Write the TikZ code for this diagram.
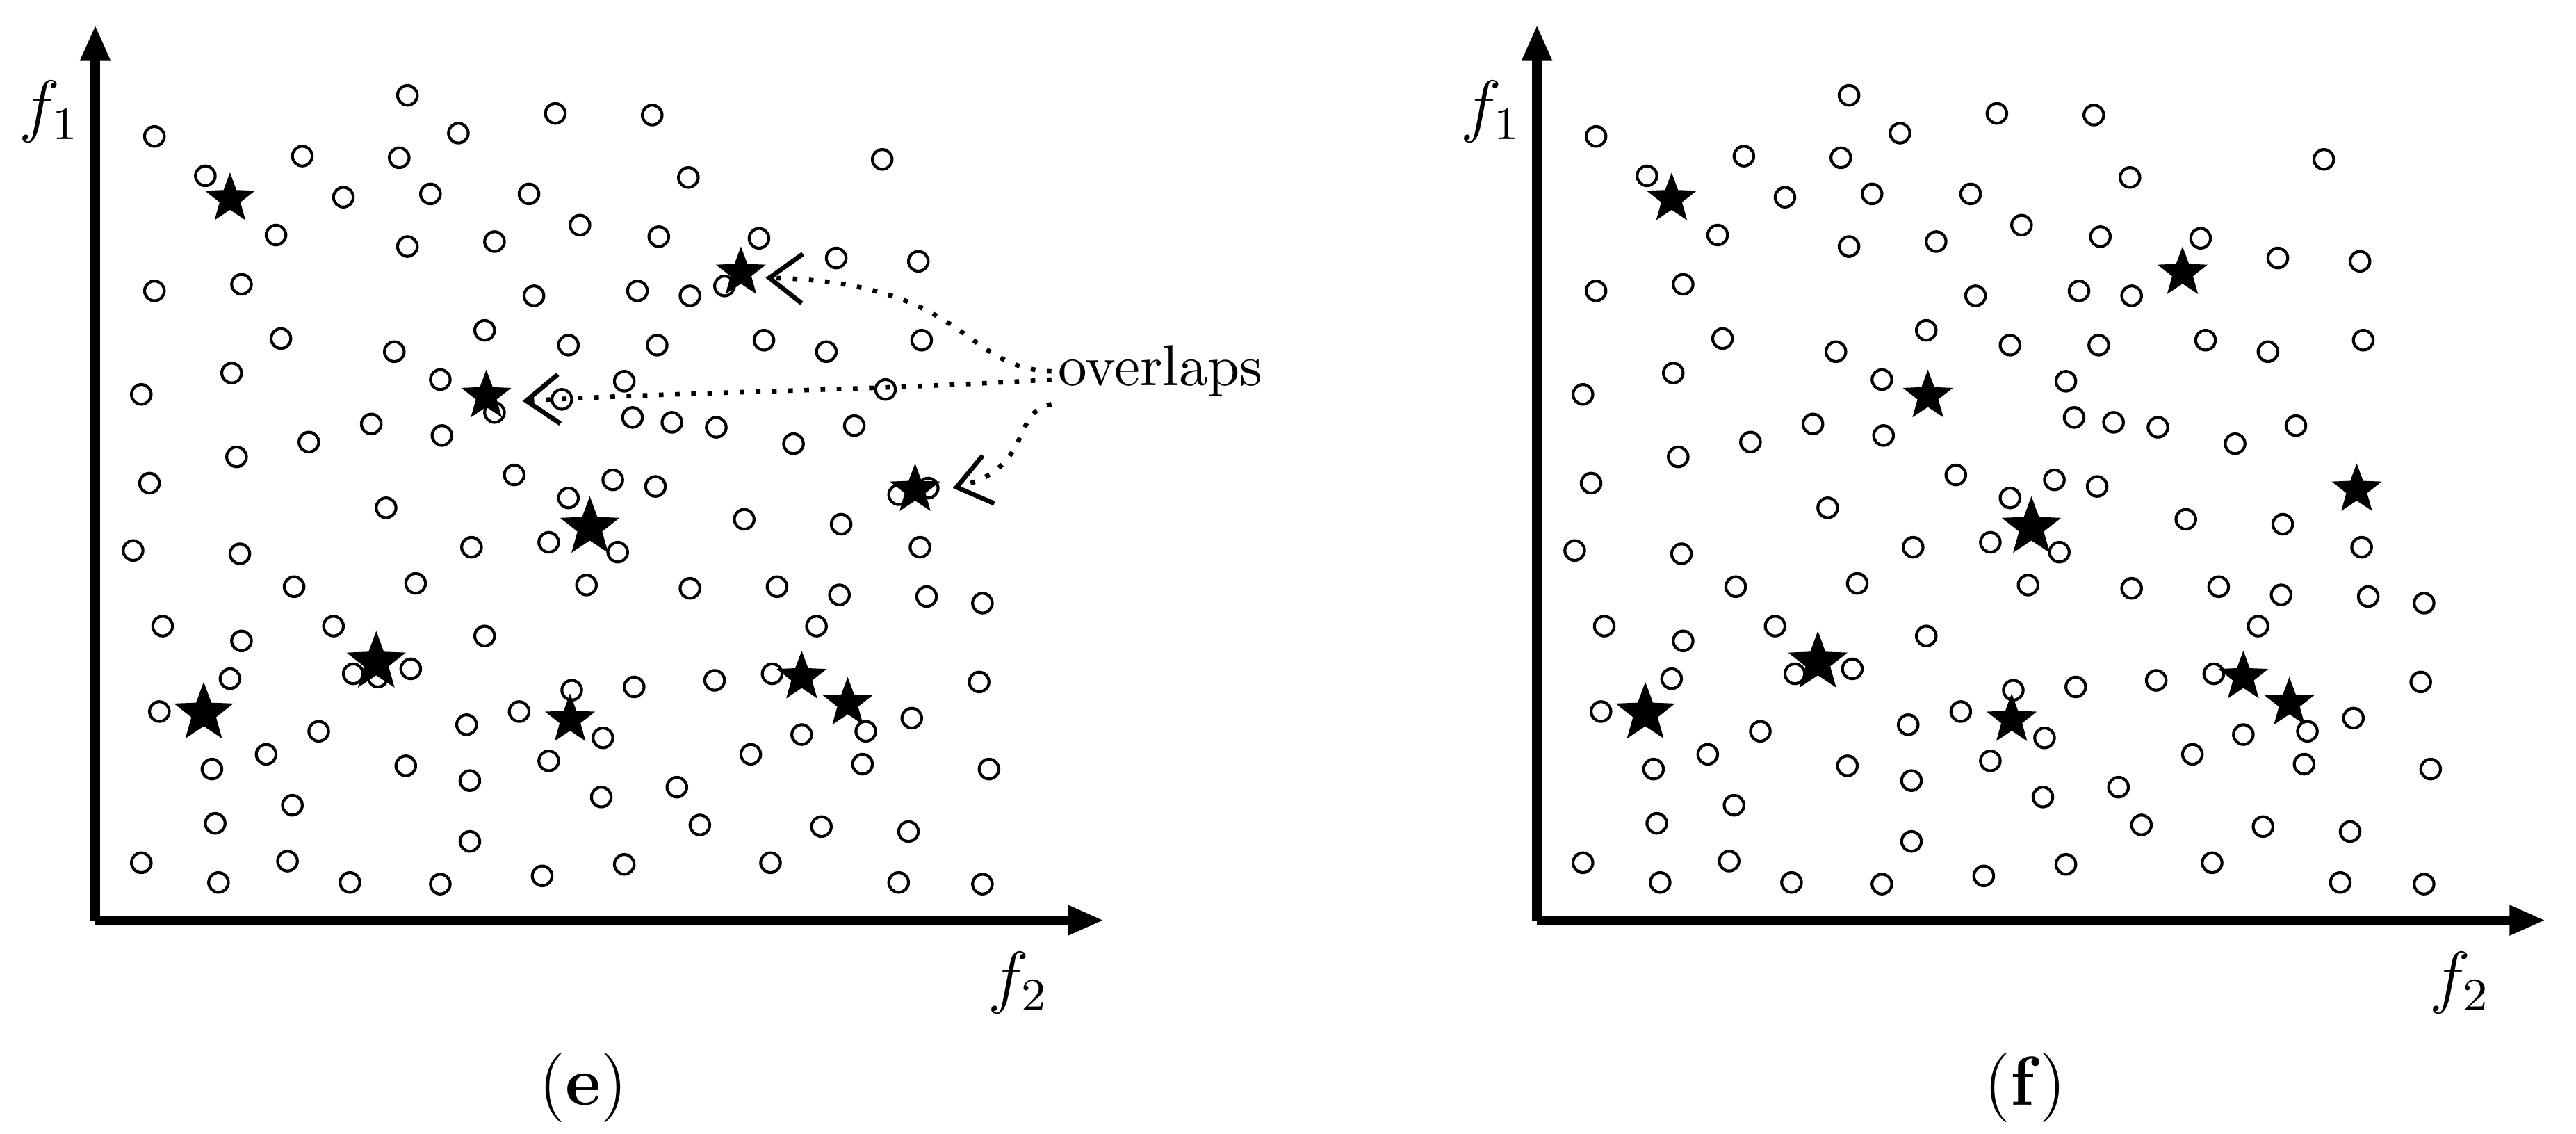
\documentclass[tikz,border=0pt]{standalone}
\usetikzlibrary{shapes.geometric,arrows.meta}
\begin{document}
\begin{tikzpicture}[x=0.01cm,y=-0.01cm,
  pt/.style={circle,draw,line width=0.5pt,minimum size=0.12cm,inner sep=0pt},
  st/.style={star,star points=5,star point ratio=2.4,fill=black,inner sep=0pt,minimum size=0.32cm},
  bst/.style={st,minimum size=0.38cm},
  ax/.style={line width=1.6pt,-{Triangle[length=0.22cm,width=0.17cm]}},
  ov/.style={dotted,line width=0.8pt,-{Straight Barb[length=0.2cm,width=0.3cm]}}]
\useasboundingbox (0,0) rectangle (1568,690);
\newcommand\pts{94/83,125/107,248/58,279/81,338/69,397/70,184/95,243/96,209/120,262/118,322/118,419/108,537/97,168/143,248/150,301/147,353/137,401/144,462/145,509/157,559/159,94/177,147/173,325/180,388/177,420/180,171/206,295/201,240/214,346/210,400/210,465/207,503/214,561/207,86/240,141/227,268/231,380/232,385/254,409/257,269/265,226/258,188/269,144/278,436/260,483/270,520/259,91/294,313/289,346/303,373/292,235/309,399/296,453/316,512/319,81/335,146/337,287/333,334/330,376/336,560/333,179/357,253/355,357/356,420/358,473/357,511/362,564/363,598/367,99/381,147/390,203/381,295/387,497/381,140/413,215/410,250/407,348/420,386/418,435/414,470/410,596/415,97/433,194/445,284/441,316/433,367/449,488/447,527/445,555/437,129/468,162/459,247/466,334/463,457/459,525/465,602/468,178/490,286/475,366/485,412/479,131/501,286/512,426/502,500/503,553/506,86/525,133/537,175/524,213/537,268/538,330/533,380/526,469/525,547/537,598/538}
\newcommand\stars{140/121/st,451/166/st,296/241/st,557/298/st,359/321/bst,229/403/bst,124/434/bst,347/438/st,488/412/st,516/428/st}
% panel e
\foreach \x/\y [count=\i] in \pts {\node[pt] (e\i) at (\x,\y) {};}
\foreach \x/\y [count=\i] in {441/174,342/243,539/237,547/301,565/297,301/251,230/412} {\node[pt] (ex\i) at (\x,\y) {};}
\foreach \x/\y/\s [count=\i] in \stars {\node[\s] (es\i) at (\x,\y) {};}
\coordinate (eo) at (58,560);
\coordinate (ey) at (58,15);
\coordinate (ex) at (672,560);
\draw[ax] (eo) -- (ey);
\draw[ax] (eo) -- (ex);
\node (ef1) at (30,68) {\large$f_{\scriptstyle 1}$};
\node (ef2) at (620,598) {\large$f_{\scriptstyle 2}$};
\node (el) at (355,662) {\large(\textbf{e})};
\node[anchor=west,inner sep=1pt] (ovl) at (640,226) {overlaps};
\draw[ov] (ovl.west) .. controls (585,224) and (590,172) .. (466,169);
\draw[ov] ([yshift=-0.05cm]ovl.west) .. controls (520,238) and (430,238) .. (318,244);
\draw[ov] ([yshift=-0.2cm]ovl.west) .. controls (615,250) and (630,285) .. (580,297);
% panel f
\begin{scope}[xshift=8.77cm]
\foreach \x/\y [count=\i] in \pts {\node[pt] (f\i) at (\x,\y) {};}
\foreach \x/\y/\s [count=\i] in \stars {\node[\s] (fs\i) at (\x,\y) {};}
\coordinate (fo) at (58,560);
\coordinate (fy) at (58,15);
\coordinate (fx) at (672,560);
\draw[ax] (fo) -- (fy);
\draw[ax] (fo) -- (fx);
\node (ff1) at (30,68) {\large$f_{\scriptstyle 1}$};
\node (ff2) at (620,598) {\large$f_{\scriptstyle 2}$};
\node (fl) at (355,662) {\large(\textbf{f})};
\end{scope}
\end{tikzpicture}
\end{document}
